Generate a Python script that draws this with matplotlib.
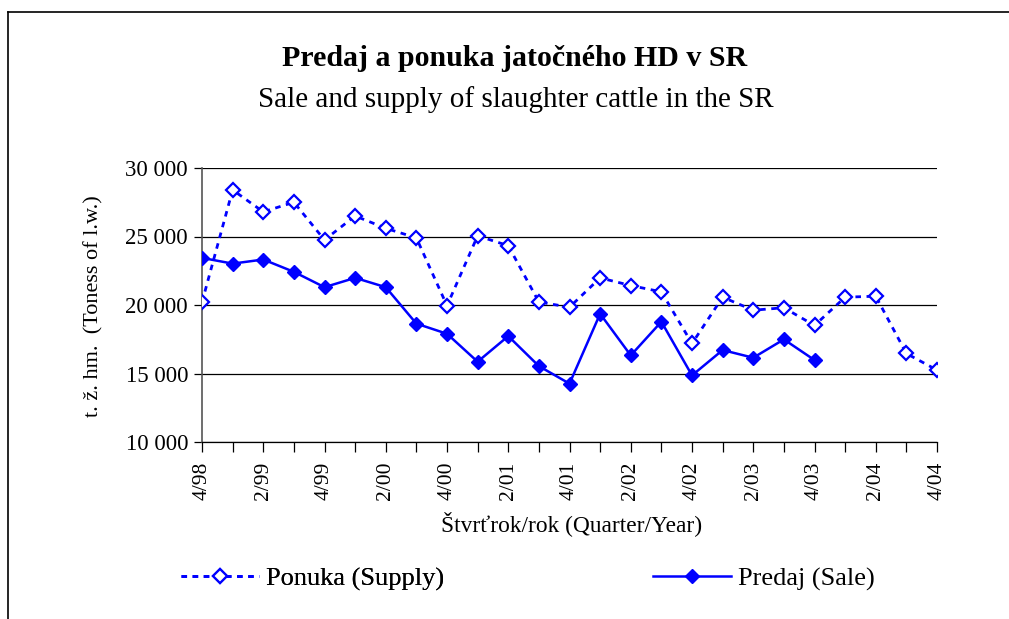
import matplotlib
matplotlib.use("Agg")
import matplotlib.pyplot as plt
from matplotlib.lines import Line2D
from matplotlib.ticker import FuncFormatter
import numpy as np

quarters = ["4/98", "1/99", "2/99", "3/99", "4/99", "1/00", "2/00", "3/00", "4/00",
            "1/01", "2/01", "3/01", "4/01", "1/02", "2/02", "3/02", "4/02",
            "1/03", "2/03", "3/03", "4/03", "1/04", "2/04", "3/04", "4/04"]
supply = [20200, 28400, 26800, 27500, 24750, 26500, 25600, 24900, 19950,
          25050, 24330, 20220, 19840, 21980, 21420, 20960, 17190,
          20570, 19620, 19800, 18510, 20570, 20640, 16460, 15250]
sale = [23440, 23020, 23320, 22420, 21300, 21980, 21300, 18640, 17900,
        15860, 17730, 15540, 14260, 19360, 16320, 18780, 14860,
        16710, 16150, 17490, 15980]
title_sk = "Predaj a ponuka jatočného HD v SR"
title_en = "Sale and supply of slaughter cattle in the SR"
ylabel = "t. ž. hm.  (Toness of l.w.)"
xlabel = "Štvrťrok/rok (Quarter/Year)"
supply_label = "Ponuka (Supply)"
sale_label = "Predaj (Sale)"

plt.rcParams['font.family'] = ['Liberation Serif', 'DejaVu Serif']
BLUE = "#0000FF"

W, H = 1009, 619
fig = plt.figure(figsize=(W / 100, H / 100), dpi=100)
ax = fig.add_axes([202 / W, 1 - 442 / H, (937 - 202) / W, (442 - 168) / H])

x_s = np.arange(len(supply))
x_p = np.arange(len(sale))

sup_style = dict(color=BLUE, lw=2.0, ls=(0, (2, 2)), marker="D", ms=6.8,
                 mfc="white", mec=BLUE, mew=1.6)
sale_style = dict(color=BLUE, lw=1.8, ls="-", marker="D", ms=7.3, mfc=BLUE, mec=BLUE)

ax.plot(x_s, supply, zorder=3, **sup_style)
ax.plot(x_p, sale, zorder=4, **sale_style)

ax.set_xlim(0, len(quarters) - 1)
ax.set_ylim(10000, 30000)
ax.set_yticks([10000, 15000, 20000, 25000, 30000])
ax.yaxis.set_major_formatter(FuncFormatter(lambda v, p: f"{int(v):,}".replace(",", " ")))
ax.grid(axis="y", color="black", lw=0.9)
ax.set_axisbelow(True)

ax.set_xticks(np.arange(len(quarters)))
ax.set_xticklabels([q if i % 2 == 0 else "" for i, q in enumerate(quarters)],
                   rotation=90, fontsize=15.5)
ax.tick_params(axis="x", direction="out", length=7, width=0.9, pad=7, color="black")
ax.tick_params(axis="y", direction="out", length=6, width=0.9, pad=4, labelsize=16.5)

for s in ["top", "right"]:
    ax.spines[s].set_visible(False)
ax.spines["left"].set_color("#555555")
ax.spines["left"].set_linewidth(1.2)
ax.spines["bottom"].set_color("black")
ax.spines["bottom"].set_linewidth(0.9)

fig.text(94 / W, 1 - 306 / H, ylabel, rotation=90, ha="center", va="center", fontsize=16)
fig.text(572 / W, 1 - 524 / H, xlabel, ha="center", va="center", fontsize=16.8)
fig.text(515 / W, 1 - 59 / H, title_sk, ha="center", va="center", fontsize=21.5, fontweight="bold")
fig.text(516 / W, 1 - 100 / H, title_en, ha="center", va="center", fontsize=21)

# frame
fig.add_artist(Line2D([8 / W, 8 / W], [0, 1 - 12 / H], transform=fig.transFigure, color="black", lw=1.2))
fig.add_artist(Line2D([8 / W, 1], [1 - 12 / H, 1 - 12 / H], transform=fig.transFigure, color="black", lw=1.2))

h_sup = Line2D([], [], **sup_style)
h_sale = Line2D([], [], **sale_style)
leg_kw = dict(loc="center left", frameon=False, fontsize=19, handlelength=2.95,
              numpoints=1, handletextpad=0.27, borderpad=0, borderaxespad=0)
leg1 = fig.legend([h_sup], [supply_label], bbox_to_anchor=(181 / W, 1 - 579 / H), **leg_kw)
leg2 = fig.legend([h_sale], [sale_label], bbox_to_anchor=(653 / W, 1 - 579 / H), **leg_kw)
fig.add_artist(leg1)

fig.savefig("out.png", dpi=100, facecolor="white")
